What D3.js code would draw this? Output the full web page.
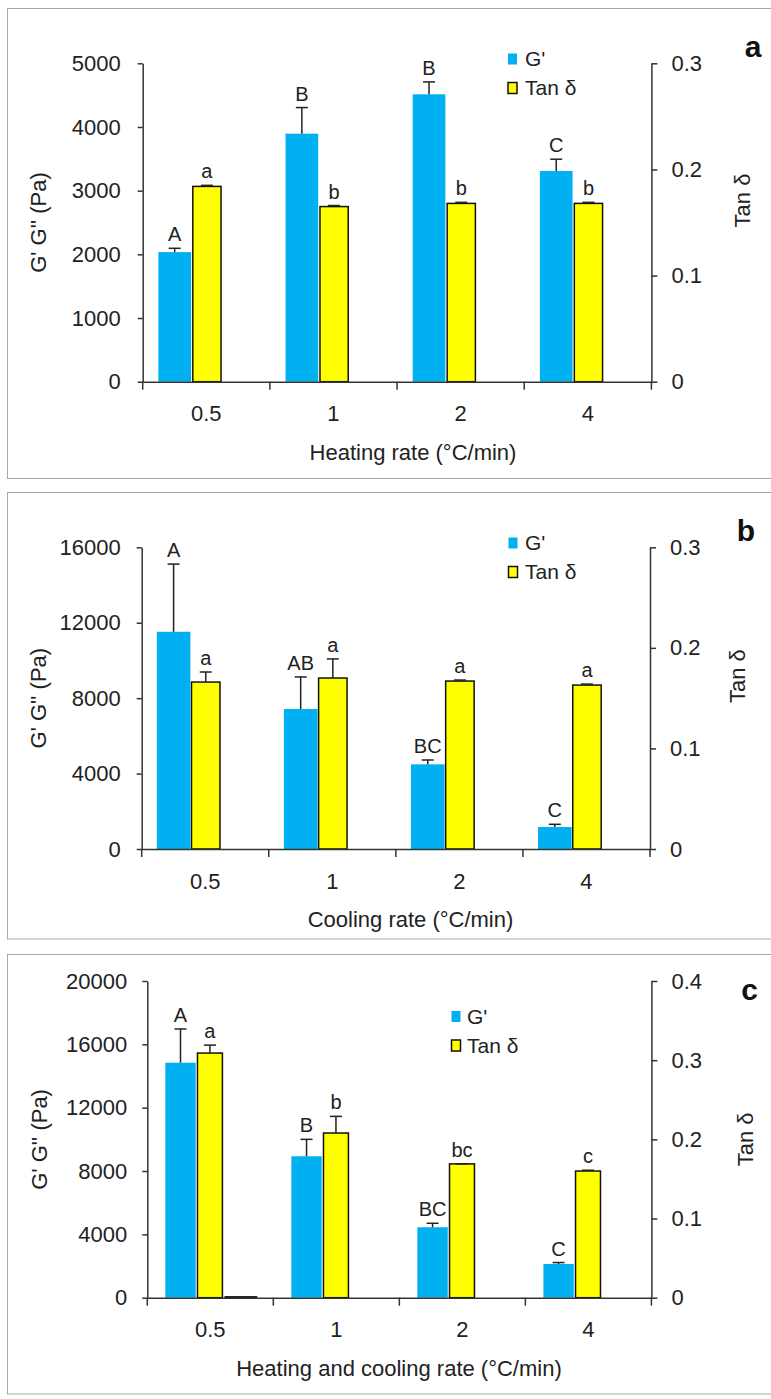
<!DOCTYPE html>
<html>
<head>
<meta charset="utf-8">
<script src="https://cdn.jsdelivr.net/npm/d3@7/dist/d3.min.js"></script>
<style>
  html, body { margin: 0; padding: 0; background: #fff; }
  svg { display: block; }
  text { font-family: "Liberation Sans", Arial, sans-serif; fill: #222; }
</style>
</head>
<body>
<svg id="chart" width="771" height="1399"></svg>
<script>
// ---- Data ----------------------------------------------------------------
const categories = ["0.5", "1", "2", "4"];

// (a) heating rate
const heatG        = [2035, 3895, 4513, 3309];
const heatGErr     = [60, 410, 195, 185];
const heatTan      = [0.184, 0.165, 0.168, 0.168];
const heatTanErr   = [0.001, 0.001, 0.001, 0.001];
const heatGpp      = [0, 0, 0, 0];
const heatGLetters   = ["A", "B", "B", "C"];
const heatTanLetters = ["a", "b", "b", "b"];
const heatGTicks   = [0, 1000, 2000, 3000, 4000, 5000];
const heatTanTicks = [0, 0.1, 0.2, 0.3];

// (b) cooling rate
const coolG        = [11520, 7425, 4490, 1165];
const coolGErr     = [3590, 1700, 230, 145];
const coolTan      = [0.166, 0.170, 0.167, 0.163];
const coolTanErr   = [0.010, 0.019, 0.001, 0.001];
const coolGpp      = [0, 0, 0, 0];
const coolGLetters   = ["A", "AB", "BC", "C"];
const coolTanLetters = ["a", "a", "a", "a"];
const coolGTicks   = [0, 4000, 8000, 12000, 16000];
const coolTanTicks = [0, 0.1, 0.2, 0.3];

// (c) heating and cooling rate
const bothG        = [14840, 8930, 4450, 2130];
const bothGErr     = [2130, 1070, 250, 90];
const bothTan      = [0.309, 0.208, 0.169, 0.160];
const bothTanErr   = [0.010, 0.021, 0, 0.001];
const bothGpp      = [60, 0, 0, 0];
const bothGLetters   = ["A", "B", "BC", "C"];
const bothTanLetters = ["a", "b", "bc", "c"];
const bothGTicks   = [0, 4000, 8000, 12000, 16000, 20000];
const bothTanTicks = [0, 0.1, 0.2, 0.3, 0.4];

// ---- Panel layout --------------------------------------------------------
const panels = [
  {
    tag: "a", xTitle: "Heating rate (°C/min)",
    g: heatG, gErr: heatGErr, tan: heatTan, tanErr: heatTanErr, gpp: heatGpp,
    gLetters: heatGLetters, tanLetters: heatTanLetters,
    gTicks: heatGTicks, tanTicks: heatTanTicks,
    box: [7.5, 8.5, 800, 470],
    plot: { left: 142.7, right: 651.4, top: 63.3, bottom: 381.7 },
    slots: { g: [0.123, 0.380], tan: [0.394, 0.616], gpp: [0.62, 0.87] },
    gPad: 17, xTitleX: 413, yTitleX: 38, tanTitleX: 742,
    tagPos: [753, 57], legend: { x: 508, y: 53.5, textX: 525 }
  },
  {
    tag: "b", xTitle: "Cooling rate (°C/min)",
    g: coolG, gErr: coolGErr, tan: coolTan, tanErr: coolTanErr, gpp: coolGpp,
    gLetters: coolGLetters, tanLetters: coolTanLetters,
    gTicks: coolGTicks, tanTicks: coolTanTicks,
    box: [7.5, 492.5, 800, 446.5],
    plot: { left: 141.7, right: 650, top: 547.3, bottom: 849 },
    slots: { g: [0.119, 0.383], tan: [0.392, 0.616], gpp: [0.62, 0.87] },
    gPad: 16, xTitleX: 410.5, yTitleX: 38, tanTitleX: 737.5,
    tagPos: [746, 541], legend: { x: 508.5, y: 537.5, textX: 525 }
  },
  {
    tag: "c", xTitle: "Heating and cooling rate (°C/min)",
    g: bothG, gErr: bothGErr, tan: bothTan, tanErr: bothTanErr, gpp: bothGpp,
    gLetters: bothGLetters, tanLetters: bothTanLetters,
    gTicks: bothGTicks, tanTicks: bothTanTicks,
    box: [7.5, 954.5, 800, 439.5],
    plot: { left: 147.3, right: 651.4, top: 981, bottom: 1297.7 },
    slots: { g: [0.143, 0.384], tan: [0.398, 0.596], gpp: [0.617, 0.868] },
    gPad: 15, xTitleX: 399, yTitleX: 39, tanTitleX: 745,
    tagPos: [749.5, 1000], legend: { x: 451.5, y: 1011, textX: 467 }
  }
];

const BLUE = "#00b0f0";
const YELLOW = "#ffff00";
const INK = "#222";
const AXIS = "#333";

const svg = d3.select("#chart");
svg.append("rect").attr("width", 771).attr("height", 1399).attr("fill", "#fff");

panels.forEach(p => {
  const root = svg.append("g").attr("class", "panel-" + p.tag);

  // frame around the panel
  root.append("rect")
    .attr("x", p.box[0]).attr("y", p.box[1])
    .attr("width", p.box[2]).attr("height", p.box[3])
    .attr("fill", "none").attr("stroke", "#a8a8a8").attr("stroke-width", 1);

  const { left, right, top, bottom } = p.plot;

  const x = d3.scaleBand().domain(categories).range([left, right]).padding(0);
  const within = d3.scaleLinear().domain([0, 1]).range([0, x.bandwidth()]);
  const yG = d3.scaleLinear().domain([0, d3.max(p.gTicks)]).range([bottom, top]);
  const yT = d3.scaleLinear().domain([0, d3.max(p.tanTicks)]).range([bottom, top]);

  const rows = categories.map((c, i) => ({
    c, g: p.g[i], gErr: p.gErr[i], tan: p.tan[i], tanErr: p.tanErr[i],
    gpp: p.gpp[i], gL: p.gLetters[i], tL: p.tanLetters[i]
  }));

  const slotX = (c, s) => x(c) + within(p.slots[s][0]);
  const slotW = s => within(p.slots[s][1]) - within(p.slots[s][0]);
  const slotMid = (c, s) => slotX(c, s) + slotW(s) / 2;

  // G' bars
  root.append("g").selectAll("rect").data(rows).join("rect")
    .attr("x", d => slotX(d.c, "g"))
    .attr("width", slotW("g"))
    .attr("y", d => yG(d.g))
    .attr("height", d => yG(0) - yG(d.g))
    .attr("fill", BLUE);

  // Tan δ bars
  root.append("g").selectAll("rect").data(rows).join("rect")
    .attr("x", d => slotX(d.c, "tan"))
    .attr("width", slotW("tan"))
    .attr("y", d => yT(d.tan))
    .attr("height", d => yT(0) - yT(d.tan))
    .attr("fill", YELLOW).attr("stroke", "#111").attr("stroke-width", 1.5);

  // G'' bars (only where non-zero)
  root.append("g").selectAll("rect").data(rows.filter(d => d.gpp > 0)).join("rect")
    .attr("x", d => slotX(d.c, "gpp"))
    .attr("width", slotW("gpp"))
    .attr("y", d => yG(d.gpp))
    .attr("height", d => Math.max(0.5, yG(0) - yG(d.gpp)))
    .attr("fill", "#111").attr("stroke", "#111").attr("stroke-width", 1.2);

  // error bars (upper whisker with cap)
  const CAP = 6;
  const errs = [];
  rows.forEach(d => {
    errs.push({ cx: slotMid(d.c, "g"), y1: yG(d.g), y2: yG(d.g + d.gErr) });
    errs.push({ cx: slotMid(d.c, "tan"), y1: yT(d.tan), y2: yT(d.tan + d.tanErr) });
  });
  const eg = root.append("g").attr("stroke", INK).attr("stroke-width", 1.5);
  eg.selectAll("line.v").data(errs).join("line").attr("class", "v")
    .attr("x1", d => d.cx).attr("x2", d => d.cx)
    .attr("y1", d => d.y1).attr("y2", d => d.y2);
  eg.selectAll("line.h").data(errs).join("line").attr("class", "h")
    .attr("x1", d => d.cx - CAP).attr("x2", d => d.cx + CAP)
    .attr("y1", d => d.y2).attr("y2", d => d.y2);

  // significance letters
  const lg = root.append("g").attr("text-anchor", "middle").style("font-size", "20px");
  lg.selectAll("text.gl").data(rows).join("text").attr("class", "gl")
    .attr("x", d => slotMid(d.c, "g"))
    .attr("y", d => yG(d.g + d.gErr) - 7)
    .text(d => d.gL);
  lg.selectAll("text.tl").data(rows).join("text").attr("class", "tl")
    .attr("x", d => slotMid(d.c, "tan"))
    .attr("y", d => yT(d.tan + d.tanErr) - 7)
    .text(d => d.tL);

  // axes
  const styleAxis = g => {
    g.selectAll("path.domain").attr("stroke", AXIS).attr("stroke-width", 1.5);
    g.selectAll(".tick line").attr("stroke", AXIS).attr("stroke-width", 1.5);
    g.selectAll(".tick text").attr("fill", INK)
      .style("font-size", "22px").style("font-family", "'Liberation Sans', Arial, sans-serif");
  };

  root.append("g").attr("transform", `translate(${left},0)`)
    .call(d3.axisLeft(yG).tickValues(p.gTicks).tickSize(5).tickSizeOuter(0)
      .tickPadding(p.gPad).tickFormat(d3.format("d")))
    .call(styleAxis);

  root.append("g").attr("transform", `translate(${right},0)`)
    .call(d3.axisRight(yT).tickValues(p.tanTicks).tickSize(6).tickSizeOuter(0)
      .tickPadding(14).tickFormat(d => d === 0 ? "0" : d3.format(".1f")(d)))
    .call(styleAxis);

  const xa = root.append("g").attr("transform", `translate(0,${bottom})`)
    .call(d3.axisBottom(x).tickSize(0).tickSizeOuter(0).tickPadding(24))
    .call(styleAxis);
  // category boundary ticks
  const edges = categories.map(c => x(c)).concat([x.range()[1]]);
  xa.selectAll("line.edge").data(edges).join("line").attr("class", "edge")
    .attr("x1", d => d).attr("x2", d => d).attr("y1", 0).attr("y2", 8)
    .attr("stroke", AXIS).attr("stroke-width", 1.5);

  // titles
  root.append("text")
    .attr("x", p.xTitleX).attr("y", bottom + 78)
    .attr("text-anchor", "middle").style("font-size", "22px")
    .text(p.xTitle);

  root.append("text")
    .attr("transform", `translate(${p.yTitleX},${(top + bottom) / 2}) rotate(-90)`)
    .attr("text-anchor", "middle").attr("dy", "0.35em").style("font-size", "22px")
    .text("G' G'' (Pa)");

  root.append("text")
    .attr("transform", `translate(${p.tanTitleX},${(top + bottom) / 2 - (p.tag === "c" ? 0 : 22)}) rotate(-90)`)
    .attr("text-anchor", "middle").attr("dy", "0.35em").style("font-size", "22px")
    .text("Tan δ");

  // panel tag
  root.append("text")
    .attr("x", p.tagPos[0]).attr("y", p.tagPos[1])
    .attr("text-anchor", "middle")
    .style("font-size", "30px").style("font-weight", "bold").style("fill", "#111")
    .text(p.tag);

  // legend
  const L = p.legend;
  const leg = root.append("g");
  const items = [
    { name: "G'", fill: BLUE, stroke: "none" },
    { name: "Tan δ", fill: YELLOW, stroke: "#111" }
  ];
  items.forEach((it, i) => {
    const yy = L.y + i * 29;
    leg.append("rect").attr("x", L.x).attr("y", yy)
      .attr("width", 9).attr("height", 11)
      .attr("fill", it.fill).attr("stroke", it.stroke).attr("stroke-width", 1.5);
    leg.append("text").attr("x", L.textX).attr("y", yy + 5.5).attr("dy", "0.35em")
      .style("font-size", "21px").text(it.name);
  });
});
</script>
</body>
</html>
